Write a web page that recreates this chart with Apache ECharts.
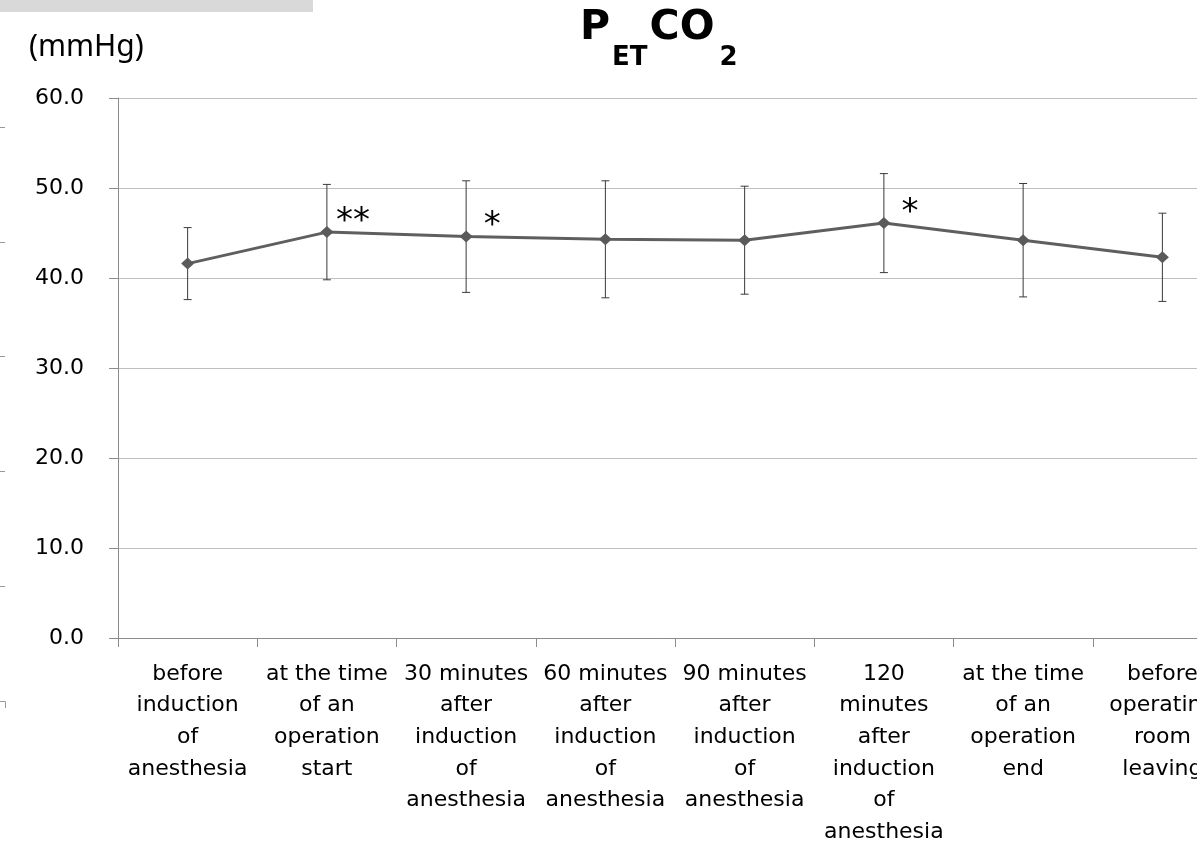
<!DOCTYPE html>
<html>
<head>
<meta charset="utf-8">
<script src="https://cdn.jsdelivr.net/npm/echarts@6/dist/echarts.min.js"></script>
<style>
    html, body { margin: 0; padding: 0; background: #fff; }
    #chart { width: 1197px; height: 842px; }
</style>
</head>
<body>
<div id="chart"></div>
<script>
const categories = [
    'before\ninduction\nof\nanesthesia',
    'at the time\nof an\noperation\nstart',
    '30 minutes\nafter\ninduction\nof\nanesthesia',
    '60 minutes\nafter\ninduction\nof\nanesthesia',
    '90 minutes\nafter\ninduction\nof\nanesthesia',
    '120\nminutes\nafter\ninduction\nof\nanesthesia',
    'at the time\nof an\noperation\nend',
    'before\noperating\nroom\nleaving'
]
// mean and SD of PetCO2 (mmHg)
const means = [41.6, 45.1, 44.6, 44.3, 44.2, 46.1, 44.2, 42.3]
const sds = [4.0, 5.3, 6.2, 6.5, 6.0, 5.5, 6.3, 4.9]
const sigMarks = ['', '**', '*', '', '', '*', '', '']
const yTicks = [0, 10, 20, 30, 40, 50, 60]

const errorData = means.map((m, i) => [i, m - sds[i], m + sds[i]])

const chartDom = document.getElementById('chart')
const myChart = echarts.init(chartDom)

const titleFont = 'DejaVu Sans'

const option = {
    animation: false,
    title: {
        text: '{p|P}{b|ET}{a|CO}{c|2}',
        left: 575,
        top: 3,
        textStyle: {
            rich: {
                p: { fontFamily: titleFont, fontWeight: 'bold', fontSize: 41, color: '#000', verticalAlign: 'bottom', padding: [0, 2, 22, 0] },
                a: { fontFamily: titleFont, fontWeight: 'bold', fontSize: 41, color: '#000', verticalAlign: 'bottom', padding: [0, 0, 22, 2] },
                b: { fontFamily: titleFont, fontWeight: 'bold', fontSize: 26, color: '#000', verticalAlign: 'bottom' },
                c: { fontFamily: titleFont, fontWeight: 'bold', fontSize: 26, color: '#000', verticalAlign: 'bottom', padding: [0, 0, 0, 5] }
            }
        }
    },
    graphic: [
        { type: 'rect', shape: { x: 0, y: 0, width: 313, height: 12 }, style: { fill: '#d9d9d9' } },
        { type: 'text', left: 29, top: 32, style: { text: '(mmHg)', font: '30px "Noto Sans"', fill: '#000' } },
        { type: 'line', shape: { x1: 0, y1: 127.5, x2: 5, y2: 127.5 }, style: { stroke: '#999', lineWidth: 1 } },
        { type: 'line', shape: { x1: 0, y1: 242.5, x2: 5, y2: 242.5 }, style: { stroke: '#999', lineWidth: 1 } },
        { type: 'line', shape: { x1: 0, y1: 356.5, x2: 5, y2: 356.5 }, style: { stroke: '#999', lineWidth: 1 } },
        { type: 'line', shape: { x1: 0, y1: 471.5, x2: 5, y2: 471.5 }, style: { stroke: '#999', lineWidth: 1 } },
        { type: 'line', shape: { x1: 0, y1: 586.5, x2: 5, y2: 586.5 }, style: { stroke: '#999', lineWidth: 1 } },
        { type: 'polyline', shape: { points: [[0, 701.5], [5.5, 701.5], [5.5, 708]] }, style: { stroke: '#999', lineWidth: 1, fill: null } }
    ],
    grid: {
        left: 118,
        top: 98,
        width: 1114,
        height: 540,
        containLabel: false,
        outerBoundsMode: 'none'
    },
    xAxis: {
        type: 'category',
        data: categories,
        boundaryGap: true,
        axisLine: { lineStyle: { color: '#8c8c8c', width: 1 } },
        axisTick: { show: true, length: 9, lineStyle: { color: '#8c8c8c' } },
        axisLabel: {
            interval: 0,
            margin: 20,
            color: '#000',
            fontFamily: 'DejaVu Sans',
            fontSize: 22,
            lineHeight: 31.7
        }
    },
    yAxis: {
        type: 'value',
        min: 0,
        max: 60,
        interval: 10,
        axisLine: { show: true, lineStyle: { color: '#8c8c8c', width: 1 } },
        axisTick: { show: true, length: 9, lineStyle: { color: '#8c8c8c' } },
        axisLabel: {
            margin: 34,
            color: '#000',
            fontFamily: 'DejaVu Sans',
            fontSize: 22,
            formatter: v => yTicks.includes(v) ? v.toFixed(1) : ''
        },
        splitLine: { lineStyle: { color: '#bfbfbf', width: 1 } }
    },
    series: [
        {
            type: 'custom',
            name: 'SD',
            data: errorData,
            z: 1,
            renderItem: (params, api) => {
                const x = api.coord([api.value(0), 0])[0]
                const lo = api.coord([api.value(0), api.value(1)])[1]
                const hi = api.coord([api.value(0), api.value(2)])[1]
                const cap = 4
                const style = { stroke: '#3a3a3a', lineWidth: 1 }
                return {
                    type: 'group',
                    children: [
                        { type: 'line', shape: { x1: x, y1: lo, x2: x, y2: hi }, style },
                        { type: 'line', shape: { x1: x - cap, y1: hi, x2: x + cap, y2: hi }, style },
                        { type: 'line', shape: { x1: x - cap, y1: lo, x2: x + cap, y2: lo }, style }
                    ]
                }
            }
        },
        {
            type: 'line',
            name: 'PETCO2',
            data: means,
            z: 3,
            symbol: 'diamond',
            symbolSize: [13, 12],
            itemStyle: { color: '#5a5a5a' },
            lineStyle: { color: '#5f5f5f', width: 3 },
            label: {
                show: true,
                position: 'inside',
                offset: [26, -10],
                formatter: p => sigMarks[p.dataIndex],
                fontFamily: 'DejaVu Sans',
                fontSize: 34,
                color: '#000'
            }
        }
    ]
}

myChart.setOption(option)
</script>
</body>
</html>
